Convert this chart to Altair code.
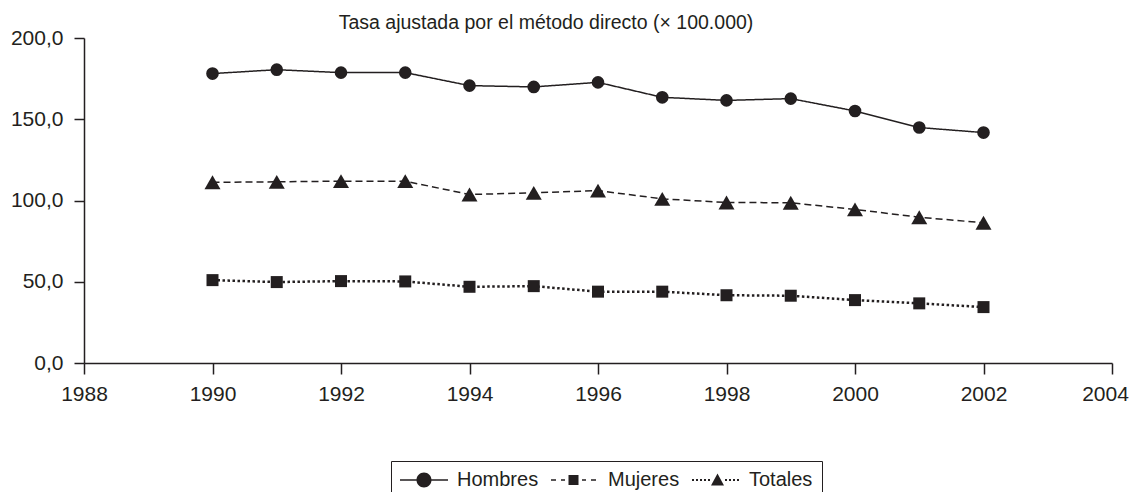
import altair as alt
import pandas as pd

# ---- data ----
years = list(range(1990, 2003))
hombres = [178.1, 180.5, 178.7, 178.7, 170.7, 169.9, 172.7, 163.5, 161.6, 162.7, 155.1, 144.9, 141.8]
mujeres = [51.0, 49.8, 50.4, 50.2, 46.9, 47.3, 43.9, 43.9, 41.7, 41.4, 38.7, 36.7, 34.4]
totales = [111.2, 111.5, 111.9, 111.9, 103.7, 104.7, 106.1, 101.0, 98.8, 98.6, 94.5, 89.7, 86.3]
series_names = ["Hombres", "Mujeres", "Totales"]
title_text = "Tasa ajustada por el método directo (× 100.000)"
x_ticks = [1988, 1990, 1992, 1994, 1996, 1998, 2000, 2002, 2004]
y_ticks = [0, 50, 100, 150, 200]

rows = []
for name, vals in zip(series_names, [hombres, mujeres, totales]):
    for yr, v in zip(years, vals):
        rows.append({"year": yr, "value": v, "serie": name})
df = pd.DataFrame(rows)

INK = "#231f20"
FONT = "Liberation Sans"

x_enc = alt.X(
    "year:Q",
    scale=alt.Scale(domain=[1988, 2004], nice=False, zero=False),
    axis=alt.Axis(
        values=x_ticks, format="d", title=None, grid=False,
        tickSize=11, labelPadding=9, labelFlush=False,
        # keep the last label inside the page edge
        labelOffset={"condition": {"test": "datum.value == 2004", "value": -7}, "value": 0},
    ),
)
y_enc = alt.Y(
    "value:Q",
    scale=alt.Scale(domain=[0, 200], nice=False),
    axis=alt.Axis(values=y_ticks, title=None, grid=False, tickSize=10, labelPadding=11,
                  labelExpr="replace(format(datum.value, '.1f'), '.', ',')"),
)

base = alt.Chart(df)

# line styles as drawn in the plot
line_style = {
    "Hombres": dict(strokeDash=[1, 0], strokeWidth=1.5),
    "Mujeres": dict(strokeDash=[2.5, 2.5], strokeWidth=2.5),
    "Totales": dict(strokeDash=[7, 4], strokeWidth=1.5),
}
point_style = {
    "Hombres": dict(shape="circle", size=160),
    "Mujeres": dict(shape="square", size=144),
    "Totales": dict(shape="triangle-up", size=256),
}

layers = []
for name in series_names:
    layers.append(
        base.transform_filter(alt.datum.serie == name)
        .mark_line(color=INK, **line_style[name])
        .encode(x=x_enc, y=y_enc)
    )
for name in series_names:
    layers.append(
        base.transform_filter(alt.datum.serie == name)
        .mark_point(filled=True, color=INK, opacity=1, strokeWidth=0, **point_style[name])
        .encode(x=x_enc, y=y_enc)
    )


def seg(x0, x1, h=0.075):
    """filled thin bar used to draw line pieces inside a legend symbol path"""
    return f"M{x0},{-h}H{x1}V{h}H{x0}Z "


# legend symbols (line + marker) as in the reference legend box, all filled shapes
legend_paths = [
    seg(-1, 0.7) + seg(2.1, 3.8)
    + "M2.15,0A0.75,0.75,0,1,1,0.65,0A0.75,0.75,0,1,1,2.15,0Z",
    seg(-1, -0.5) + seg(0, 0.4) + "M0.75,-0.5H1.75V0.5H0.75Z " + seg(2.1, 2.5) + seg(3.0, 3.5),
    "".join(seg(a, a + 0.2, 0.1) for a in [-1, -0.6, -0.2, 0.2, 0.6])
    + "M1.55,-0.65L2.2,0.55H0.9Z "
    + "".join(seg(a, a + 0.2, 0.1) for a in [2.3, 2.7, 3.1, 3.5]),
]
legend_layer = (
    base.transform_filter("datum.year < 0")
    .mark_point(filled=True, color=INK, strokeWidth=0, opacity=1)
    .encode(
        x=x_enc,
        y=y_enc,
        shape=alt.Shape(
            "serie:N",
            scale=alt.Scale(domain=series_names, range=legend_paths),
            legend=alt.Legend(
                title=None, orient="none", legendX=307, legendY=423,
                direction="horizontal", symbolSize=400, labelOffset=37,
                labelFontSize=20, labelFont=FONT, labelColor=INK,
                strokeColor=INK, fillColor="white", padding=9, columnPadding=12,
                symbolStrokeWidth=0, symbolOpacity=1,
                symbolFillColor=INK, labelLimit=0,
            ),
        ),
    )
)
layers.append(legend_layer)

chart = (
    alt.layer(*layers)
    .properties(
        width=1028,
        height=325,
        autosize=alt.AutoSizeParams(type="none"),
        padding={"left": 76, "top": 30, "right": 17, "bottom": 129},
        title=alt.TitleParams(
            title_text, font=FONT, fontSize=19.5, fontWeight="normal", color=INK,
            anchor="middle", frame="group", dx=-52, offset=-6,
        ),
    )
    .configure_view(stroke=None)
    .configure_axis(
        domainColor=INK, tickColor=INK, labelColor=INK, domainWidth=1.5, tickWidth=1.5,
        labelFont=FONT, labelFontSize=21,
    )
)

chart.save("out.html", embed_options={"renderer": "svg", "actions": False})
